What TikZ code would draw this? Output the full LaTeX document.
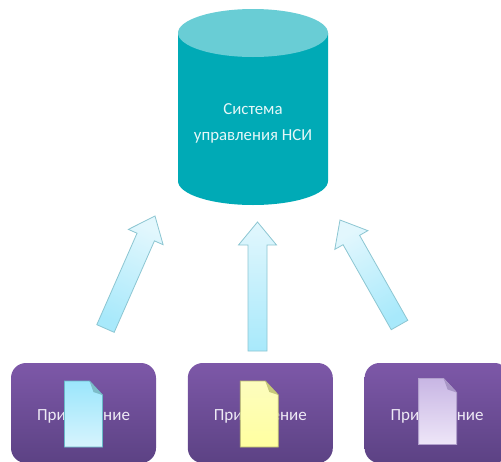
\documentclass[tikz,border=0pt]{standalone}
\usepackage{fontspec}
\setmainfont{Carlito}
\usetikzlibrary{calc,positioning}
\definecolor{mybody}{RGB}{0,170,182}
\definecolor{myend}{RGB}{105,205,213}
\definecolor{mypurpletop}{RGB}{125,88,168}
\definecolor{mypurplebot}{RGB}{92,66,132}
\definecolor{myline}{RGB}{140,198,210}
\definecolor{myapptext}{RGB}{238,234,245}
\definecolor{myarrowtop}{RGB}{226,247,253}
\definecolor{myarrowbot}{RGB}{168,233,251}
\definecolor{mybluedge}{RGB}{105,185,200}
\definecolor{mybluetop}{RGB}{155,230,252}
\definecolor{myblubot}{RGB}{215,244,253}
\definecolor{mybluefold}{RGB}{125,188,200}
\definecolor{myyeledge}{RGB}{185,188,110}
\definecolor{myyeltop}{RGB}{253,253,190}
\definecolor{myyelbot}{RGB}{255,255,160}
\definecolor{myyelfold}{RGB}{198,200,122}
\definecolor{myvioedge}{RGB}{178,160,205}
\definecolor{myviotop}{RGB}{200,182,228}
\definecolor{myviobot}{RGB}{238,230,248}
\definecolor{myviofold}{RGB}{168,150,198}

\begin{document}
\begin{tikzpicture}[x=1pt,y=-1pt,line width=0.8pt,
  dblabel/.style={text=white!90!mybody,align=center,font=\fontsize{16.8}{26}\selectfont},
  appnode/.style={rectangle,rounded corners=15pt,minimum width=145pt,minimum height=100pt,inner sep=0pt,
    top color=mypurpletop,bottom color=mypurplebot,text=myapptext,text height=18pt,text depth=4pt,
    font=\fontsize{17}{20}\selectfont},
  blockarrow/.style={draw=myline,top color=myarrowtop,bottom color=myarrowbot},
  bluedoc/.style={draw=mybluedge,top color=mybluetop,bottom color=myblubot},
  yellowdoc/.style={draw=myyeledge,top color=myyeltop,bottom color=myyelbot},
  violetdoc/.style={draw=myvioedge,top color=myviotop,bottom color=myviobot}]

  \clip (0,0) rectangle (501,461);
  \useasboundingbox (0,0) rectangle (501,461);
  \fill[white] (0,0) rectangle (501,461);

  % cylinder
  \fill[mybody] (178,33) -- (178,181) arc[start angle=180,end angle=360,x radius=75pt,y radius=24pt]
    -- (328,33) -- cycle;
  \fill[myend] (253,33) ellipse[x radius=75pt,y radius=24pt];
  \node[dblabel] (dbtext) at (253,123) {Система\\управления НСИ};

  \node[appnode] (app1) at (83.5,413) {Приложение};
  \node[appnode,right=31pt of app1] (app2) {Приложение};
  \node[appnode,right=31pt of app2] (app3) {Приложение};

  % ends of the block arrows
  \coordinate (tail1) at (105.5,328.5);
  \coordinate (tip1) at (155,216);
  \coordinate (tail2) at (257.5,351);
  \coordinate (tip2) at (257.5,222);
  \coordinate (tail3) at (399.5,325);
  \coordinate (tip3) at (340,220);

  \foreach \a/\ang in {1/-24,2/0,3/30} {
    \coordinate (neck\a) at ($(tip\a)!23pt!(tail\a)$);
    \draw[blockarrow,shading angle=\ang]
      ($(tail\a)!9.5pt!90:(tip\a)$) -- ($(neck\a)!9.5pt!90:(tip\a)$)
      -- ($(neck\a)!19pt!90:(tip\a)$) -- (tip\a)
      -- ($(neck\a)!19pt!-90:(tip\a)$) -- ($(neck\a)!9.5pt!-90:(tip\a)$)
      -- ($(tail\a)!9.5pt!-90:(tip\a)$) -- cycle;
  }

  % documents on top of the boxes
  \foreach \a/\s/\f/\dy/\dx in {1/bluedoc/mybluefold/1/0,2/yellowdoc/myyelfold/1/-1,3/violetdoc/myviofold/-1.5/0.5} {
    \begin{scope}[shift={($(app\a.center)+(\dx,\dy)$)}]
      \draw[\s] (-19,-33) -- (6,-33) -- (19,-19) -- (19,33) -- (-19,33) -- cycle;
      \fill[\f] (6,-33) -- (19,-19) -- (10,-22) -- cycle;
    \end{scope}
  }
\end{tikzpicture}
\end{document}
